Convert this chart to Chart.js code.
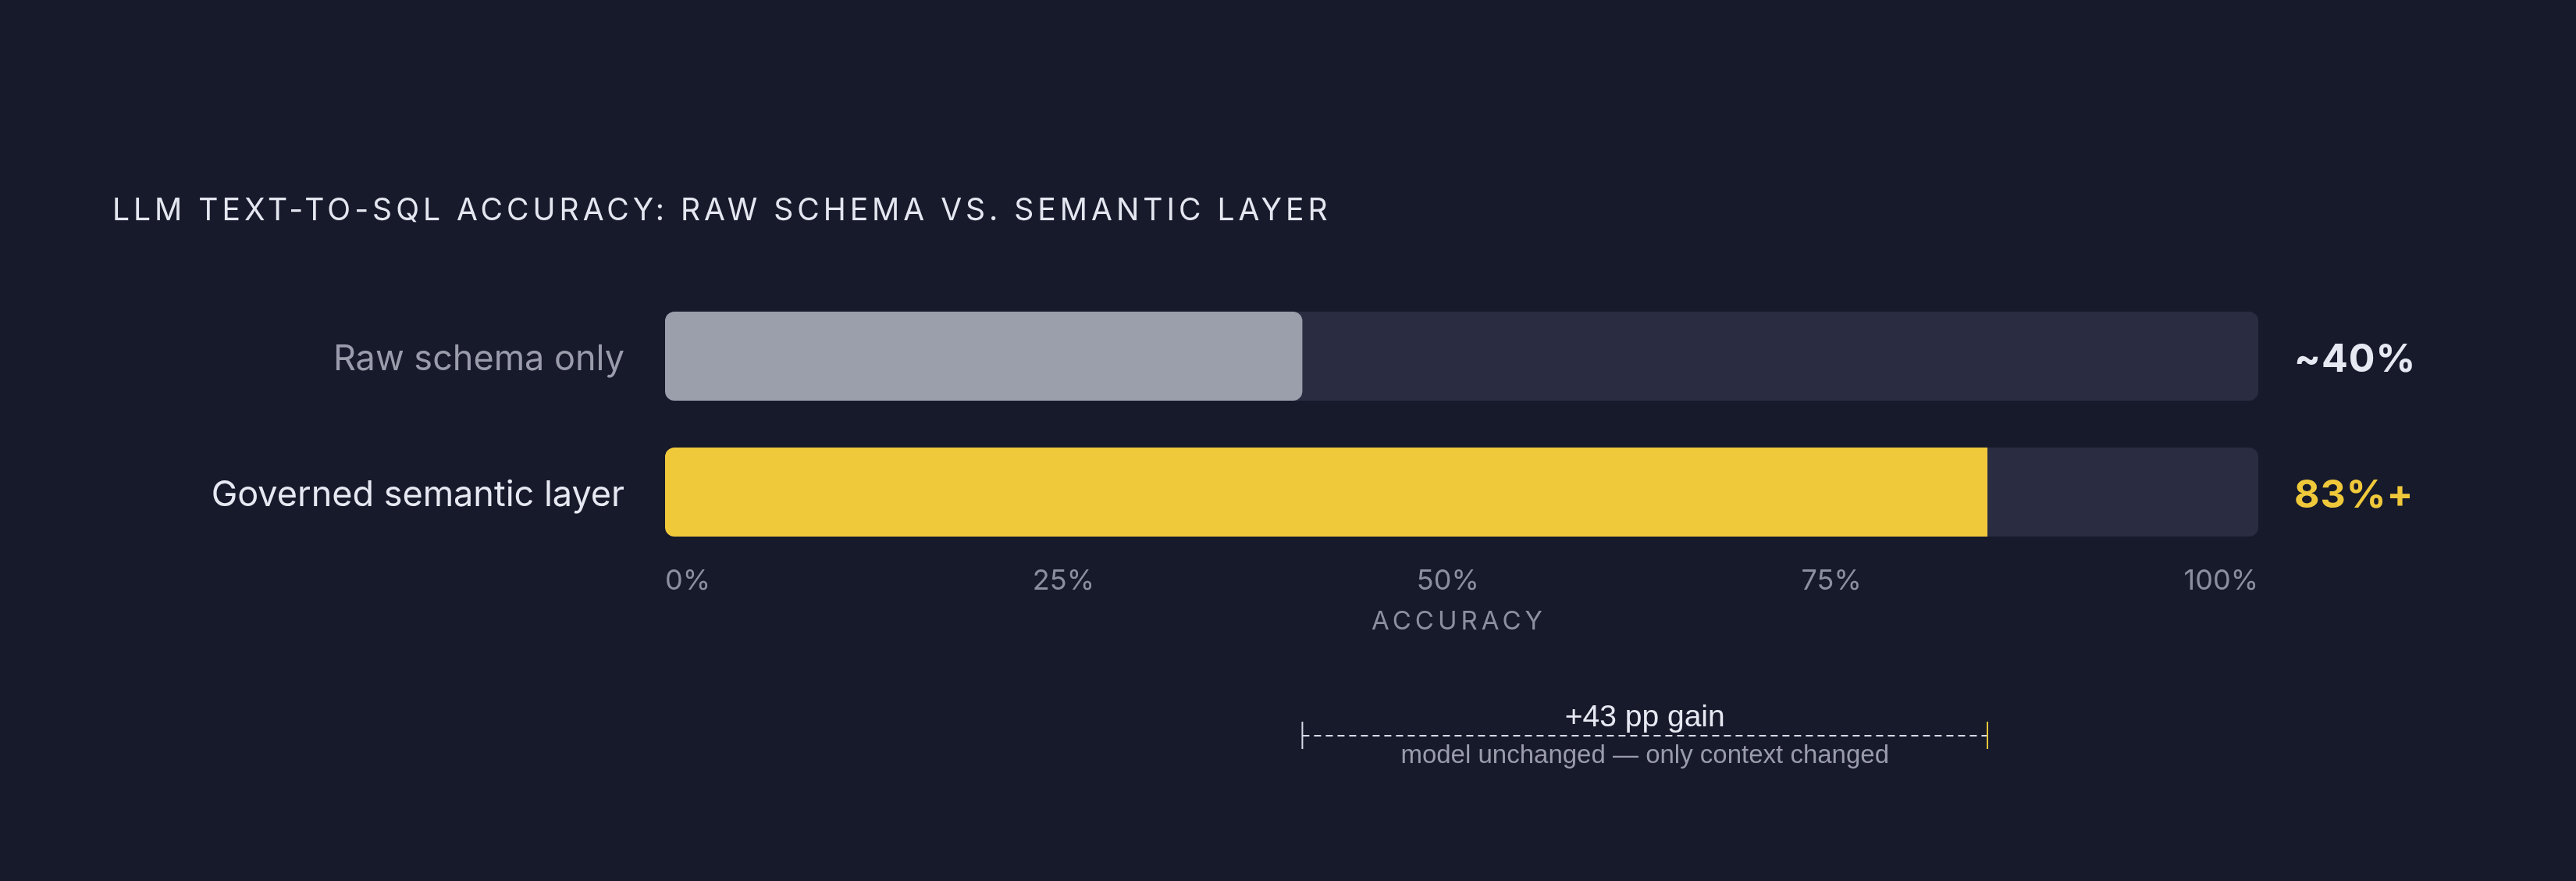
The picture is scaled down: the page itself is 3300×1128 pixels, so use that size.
<!DOCTYPE html>
<html><head><meta charset="utf-8">
<script src="https://cdn.jsdelivr.net/npm/chart.js@4.4.1/dist/chart.umd.min.js"></script>
<style>
html,body{margin:0;padding:0;background:#161a2b;}
#wrap{position:relative;width:3300px;height:1128px;overflow:hidden;background:#161a2b;}
#title{position:absolute;left:144px;top:248px;font-family:Inter,sans-serif;font-weight:400;font-size:39px;line-height:39px;letter-spacing:5px;color:#e4e6f0;white-space:nowrap;}
canvas{position:absolute;left:0;top:0;}
</style></head><body>
<div id="wrap"><canvas id="c" width="3300" height="1128"></canvas><div id="title">LLM TEXT-TO-SQL ACCURACY: RAW SCHEMA VS. SEMANTIC LAYER</div></div>
<script>
// ---- data ----
const categories = ['Raw schema only', 'Governed semantic layer'];
const accuracy = [40, 83];
const valueLabels = ['~40%', '83%+'];
const trackValues = [100, 100];
const tickValues = [0, 25, 50, 75, 100];
const tickLabels = ['0%', '25%', '50%', '75%', '100%'];
const axisTitle = 'ACCURACY';
const noteLine = 'model unchanged — only context changed';

// ---- style ----
const C = {track:'#2a2c42', raw:'#9b9eab', gov:'#f0c93b', text:'#e6e8f2', muted:'#9a9cab', axis:'#8c8fa0', dash:'#d8dae6'};
const TICK_FONT = {family:'Inter', size:36};

const annot = {
  id:'annot',
  afterDraw(chart){
    const {ctx, chartArea:a, scales:{x, y}} = chart;
    ctx.save();
    // value labels
    ctx.font = '700 50px Inter';
    ctx.letterSpacing = '1px';
    ctx.textAlign = 'left';
    ctx.textBaseline = 'middle';
    valueLabels.forEach((t, i) => {
      ctx.fillStyle = i === 0 ? C.text : C.gov;
      ctx.fillText(t, a.right + 46, y.getPixelForValue(i) + 5);
    });
    // axis title
    ctx.font = '400 33px Inter';
    ctx.letterSpacing = '5px';
    ctx.fillStyle = C.axis;
    ctx.textAlign = 'center';
    ctx.textBaseline = 'alphabetic';
    ctx.fillText(axisTitle, (a.left + a.right) / 2 - 3.5, a.bottom + 89);
    // bracket
    const xs = x.getPixelForValue(accuracy[0]);
    const xe = x.getPixelForValue(accuracy[1]);
    const yb = a.bottom + 225;
    ctx.letterSpacing = '0px';
    ctx.lineWidth = 2;
    ctx.strokeStyle = C.dash;
    ctx.setLineDash([9, 6]);
    ctx.beginPath(); ctx.moveTo(xs, yb); ctx.lineTo(xe, yb); ctx.stroke();
    ctx.setLineDash([]);
    ctx.beginPath(); ctx.moveTo(xs, yb - 18); ctx.lineTo(xs, yb + 17); ctx.stroke();
    ctx.strokeStyle = C.gov;
    ctx.beginPath(); ctx.moveTo(xe, yb - 18); ctx.lineTo(xe, yb + 17); ctx.stroke();
    const mid = (xs + xe) / 2;
    ctx.font = '400 39px "Liberation Sans"';
    ctx.fillStyle = C.text;
    ctx.fillText('+' + (accuracy[1] - accuracy[0]) + ' pp gain', mid, yb - 12);
    ctx.font = '400 33px "Liberation Sans"';
    ctx.fillStyle = C.muted;
    ctx.fillText(noteLine, mid, yb + 35);
    ctx.restore();
  }
};

new Chart(document.getElementById('c'), {
  type: 'bar',
  data: {
    labels: categories,
    datasets: [
      {data: accuracy, backgroundColor: [C.raw, C.gov],
       borderRadius: (c) => c.dataIndex === 0 ? 12 : {topLeft:12, bottomLeft:12, topRight:0, bottomRight:0},
       borderSkipped: false, grouped: false, order: 1, barPercentage: 0.655, categoryPercentage: 1},
      {data: trackValues, backgroundColor: C.track, borderRadius: 12, borderSkipped: false,
       grouped: false, order: 2, barPercentage: 0.655, categoryPercentage: 1}
    ]
  },
  options: {
    indexAxis: 'y', responsive: false, animation: false, devicePixelRatio: 1,
    layout: {padding: {left: 0, right: 407, top: 369, bottom: 0}},
    plugins: {legend: {display: false}, tooltip: {enabled: false}, title: {display: false}},
    scales: {
      x: {
        min: 0, max: 100,
        grid: {display: false, drawTicks: false}, border: {display: false},
        afterFit(s){ s.height = 1128 - 717; },
        afterBuildTicks(s){
          const ctx = s.ctx;
          ctx.save(); ctx.font = TICK_FONT.size + 'px ' + TICK_FONT.family;
          const w = tickLabels.map(t => ctx.measureText(t).width);
          ctx.restore();
          const W = s.width || 1;
          const gap = (W - w.reduce((p, q) => p + q, 0)) / (tickLabels.length - 1);
          let pos = 0;
          s.ticks = tickValues.map((v, i) => {
            const c = pos + w[i] / 2; pos += w[i] + gap;
            if (i === 0 || i === tickValues.length - 1) return {value: v};
            return {value: s.min + (s.max - s.min) * c / W};
          });
        },
        ticks: {align: 'inner', padding: 6, color: C.axis, font: TICK_FONT, maxRotation: 0, autoSkip: false,
                callback: (v, i) => tickLabels[i]}
      },
      y: {
        grid: {display: false, drawTicks: false}, border: {display: false},
        afterFit(s){ s.width = 852; },
        ticks: {padding: 52, labelOffset: 4, color: (c) => c.index === 0 ? C.muted : C.text, font: {family: 'Inter', size: 45}}
      }
    }
  },
  plugins: [annot]
});
</script>
</body></html>
